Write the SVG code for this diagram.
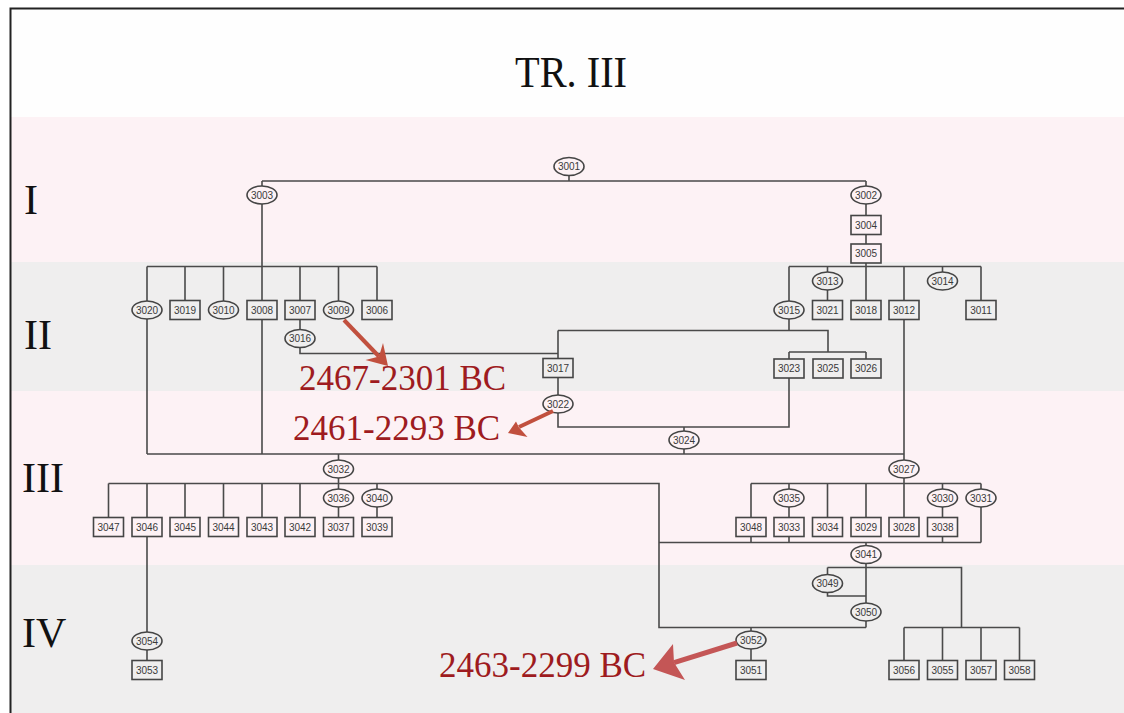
<svg xmlns="http://www.w3.org/2000/svg" width="1124" height="713" viewBox="0 0 1124 713">
<style>
.n rect,.n ellipse{fill:none;stroke:#454545;stroke-width:1.6}
.n text{font-family:"Liberation Sans",Arial,sans-serif;font-size:10px;fill:#3a3a3a;text-anchor:middle;dominant-baseline:central}
#connectors path{fill:none;stroke:#4a4a4a;stroke-width:1.6}
.rn{font-family:"Liberation Serif","Times New Roman",serif;font-size:42px;fill:#111}
.date{font-family:"Liberation Serif","Times New Roman",serif;font-size:35px;fill:#9e1b20}
.arr{fill:none;stroke:#c1503e;stroke-width:4}
.ah{fill:#c1503e}
</style>
<rect x="0" y="0" width="1124" height="713" fill="#ffffff"/>
<rect x="10" y="8" width="1114" height="109" fill="#fefefe"/>
<rect x="10" y="117" width="1114" height="145" fill="#fdf2f5"/>
<rect x="10" y="262" width="1114" height="129" fill="#efeeee"/>
<rect x="10" y="391" width="1114" height="174" fill="#fdf2f5"/>
<rect x="10" y="565" width="1114" height="148" fill="#efeeee"/>
<path d="M10.5 713 V8.5 H1124" fill="none" stroke="#222" stroke-width="2"/>
<text x="571" y="87" font-family="'Liberation Serif','Times New Roman',serif" font-size="44" fill="#111" text-anchor="middle" textLength="112" lengthAdjust="spacingAndGlyphs">TR. III</text>
<text class="rn" x="24" y="214">I</text>
<text class="rn" x="24" y="349">II</text>
<text class="rn" x="22" y="492">III</text>
<text class="rn" x="22" y="647">IV</text>
<g id="connectors">
<path d="M569 175.5V181M262 181H866M262 181V186M866 181V186"/>
<path d="M262 204V300.5M262 319.5V454"/>
<path d="M147 266.5H377M147 266.5V301M185 266.5V300.5M223.5 266.5V301M300 266.5V300.5M338.5 266.5V301M377 266.5V300.5"/>
<path d="M300 319.5V329.5M300 347.5V353.5H558"/>
<path d="M558 330.5V358.5M558 330.5H828V352M789 352H866M789 352V359M866 352V359M789 319V330.5"/>
<path d="M558 377.5V395M558 413V427H789V378M684 427V431M684 449V454"/>
<path d="M147 454H904M147 319V454"/>
<path d="M866 204V215.5M866 234.5V244M866 263V266.5M789 266.5H981M789 266.5V301M827.5 266.5V272M827.5 290V300.5M866 266.5V300.5M904 266.5V300.5M942.5 266.5V272M981 266.5V300.5"/>
<path d="M904 319.5V460"/>
<path d="M338.5 454V460M338.5 478V489M108.5 483.5H659V627.5H866M108.5 483.5V517.5M147 483.5V517.5M185 483.5V517.5M223.5 483.5V517.5M262 483.5V517.5M300 483.5V517.5M377 483.5V489M338.5 507V517.5M377 507V517.5"/>
<path d="M147 536.5V632M147 650V660.5"/>
<path d="M904 478V517.5M751 483.5H981M751 483.5V517.5M789 483.5V489M789 507V517.5M827.5 483.5V517.5M866 483.5V517.5M942.5 483.5V489M942.5 507V517.5M981 483.5V489"/>
<path d="M659 542.5H981M751 536.5V542.5M789 536.5V542.5M942.5 536.5V542.5M981 507V542.5M866 542.5V545.5"/>
<path d="M866 563.5V603M827.5 567.5H961.5V627.5M827.5 567.5V574.5M827.5 592.5V596H866"/>
<path d="M866 621V627.5M751 627.5V631M751 649V660.5"/>
<path d="M904 627.5H1019.5M904 627.5V660.5M942.5 627.5V660.5M981 627.5V660.5M1019.5 627.5V660.5"/>
</g>
<g id="n3001" class="n"><ellipse cx="569" cy="166.5" rx="15" ry="9"/><text x="569" y="166.5">3001</text></g>
<g id="n3003" class="n"><ellipse cx="262" cy="195" rx="15" ry="9"/><text x="262" y="195">3003</text></g>
<g id="n3002" class="n"><ellipse cx="866" cy="195" rx="15" ry="9"/><text x="866" y="195">3002</text></g>
<g id="n3004" class="n"><rect x="851" y="215.5" width="30" height="19"/><text x="866" y="225">3004</text></g>
<g id="n3005" class="n"><rect x="851" y="244" width="30" height="19"/><text x="866" y="253.5">3005</text></g>
<g id="n3020" class="n"><ellipse cx="147" cy="310" rx="15" ry="9"/><text x="147" y="310">3020</text></g>
<g id="n3019" class="n"><rect x="170" y="300.5" width="30" height="19"/><text x="185" y="310">3019</text></g>
<g id="n3010" class="n"><ellipse cx="223.5" cy="310" rx="15" ry="9"/><text x="223.5" y="310">3010</text></g>
<g id="n3008" class="n"><rect x="247" y="300.5" width="30" height="19"/><text x="262" y="310">3008</text></g>
<g id="n3007" class="n"><rect x="285" y="300.5" width="30" height="19"/><text x="300" y="310">3007</text></g>
<g id="n3009" class="n"><ellipse cx="338.5" cy="310" rx="15" ry="9"/><text x="338.5" y="310">3009</text></g>
<g id="n3006" class="n"><rect x="362" y="300.5" width="30" height="19"/><text x="377" y="310">3006</text></g>
<g id="n3016" class="n"><ellipse cx="300" cy="338.5" rx="15" ry="9"/><text x="300" y="338.5">3016</text></g>
<g id="n3015" class="n"><ellipse cx="789" cy="310" rx="15" ry="9"/><text x="789" y="310">3015</text></g>
<g id="n3013" class="n"><ellipse cx="827.5" cy="281" rx="15" ry="9"/><text x="827.5" y="281">3013</text></g>
<g id="n3021" class="n"><rect x="812.5" y="300.5" width="30" height="19"/><text x="827.5" y="310">3021</text></g>
<g id="n3018" class="n"><rect x="851" y="300.5" width="30" height="19"/><text x="866" y="310">3018</text></g>
<g id="n3012" class="n"><rect x="889" y="300.5" width="30" height="19"/><text x="904" y="310">3012</text></g>
<g id="n3014" class="n"><ellipse cx="942.5" cy="281" rx="15" ry="9"/><text x="942.5" y="281">3014</text></g>
<g id="n3011" class="n"><rect x="966" y="300.5" width="30" height="19"/><text x="981" y="310">3011</text></g>
<g id="n3017" class="n"><rect x="543" y="358.5" width="30" height="19"/><text x="558" y="368">3017</text></g>
<g id="n3023" class="n"><rect x="774" y="359" width="30" height="19"/><text x="789" y="368.5">3023</text></g>
<g id="n3025" class="n"><rect x="813" y="359" width="30" height="19"/><text x="828" y="368.5">3025</text></g>
<g id="n3026" class="n"><rect x="851" y="359" width="30" height="19"/><text x="866" y="368.5">3026</text></g>
<g id="n3022" class="n"><ellipse cx="558" cy="404" rx="15" ry="9"/><text x="558" y="404">3022</text></g>
<g id="n3024" class="n"><ellipse cx="684" cy="440" rx="15" ry="9"/><text x="684" y="440">3024</text></g>
<g id="n3032" class="n"><ellipse cx="338.5" cy="469" rx="15" ry="9"/><text x="338.5" y="469">3032</text></g>
<g id="n3027" class="n"><ellipse cx="904" cy="469" rx="15" ry="9"/><text x="904" y="469">3027</text></g>
<g id="n3047" class="n"><rect x="93.5" y="517.5" width="30" height="19"/><text x="108.5" y="527">3047</text></g>
<g id="n3046" class="n"><rect x="132" y="517.5" width="30" height="19"/><text x="147" y="527">3046</text></g>
<g id="n3045" class="n"><rect x="170" y="517.5" width="30" height="19"/><text x="185" y="527">3045</text></g>
<g id="n3044" class="n"><rect x="208.5" y="517.5" width="30" height="19"/><text x="223.5" y="527">3044</text></g>
<g id="n3043" class="n"><rect x="247" y="517.5" width="30" height="19"/><text x="262" y="527">3043</text></g>
<g id="n3042" class="n"><rect x="285" y="517.5" width="30" height="19"/><text x="300" y="527">3042</text></g>
<g id="n3036" class="n"><ellipse cx="338.5" cy="498" rx="15" ry="9"/><text x="338.5" y="498">3036</text></g>
<g id="n3037" class="n"><rect x="323.5" y="517.5" width="30" height="19"/><text x="338.5" y="527">3037</text></g>
<g id="n3040" class="n"><ellipse cx="377" cy="498" rx="15" ry="9"/><text x="377" y="498">3040</text></g>
<g id="n3039" class="n"><rect x="362" y="517.5" width="30" height="19"/><text x="377" y="527">3039</text></g>
<g id="n3048" class="n"><rect x="736" y="517.5" width="30" height="19"/><text x="751" y="527">3048</text></g>
<g id="n3035" class="n"><ellipse cx="789" cy="498" rx="15" ry="9"/><text x="789" y="498">3035</text></g>
<g id="n3033" class="n"><rect x="774" y="517.5" width="30" height="19"/><text x="789" y="527">3033</text></g>
<g id="n3034" class="n"><rect x="812.5" y="517.5" width="30" height="19"/><text x="827.5" y="527">3034</text></g>
<g id="n3029" class="n"><rect x="851" y="517.5" width="30" height="19"/><text x="866" y="527">3029</text></g>
<g id="n3028" class="n"><rect x="889" y="517.5" width="30" height="19"/><text x="904" y="527">3028</text></g>
<g id="n3030" class="n"><ellipse cx="942.5" cy="498" rx="15" ry="9"/><text x="942.5" y="498">3030</text></g>
<g id="n3038" class="n"><rect x="927.5" y="517.5" width="30" height="19"/><text x="942.5" y="527">3038</text></g>
<g id="n3031" class="n"><ellipse cx="981" cy="498" rx="15" ry="9"/><text x="981" y="498">3031</text></g>
<g id="n3041" class="n"><ellipse cx="866" cy="554.5" rx="15" ry="9"/><text x="866" y="554.5">3041</text></g>
<g id="n3049" class="n"><ellipse cx="827.5" cy="583.5" rx="15" ry="9"/><text x="827.5" y="583.5">3049</text></g>
<g id="n3050" class="n"><ellipse cx="866" cy="612" rx="15" ry="9"/><text x="866" y="612">3050</text></g>
<g id="n3052" class="n"><ellipse cx="751" cy="640" rx="15" ry="9"/><text x="751" y="640">3052</text></g>
<g id="n3051" class="n"><rect x="736" y="660.5" width="30" height="19"/><text x="751" y="670">3051</text></g>
<g id="n3054" class="n"><ellipse cx="147" cy="641" rx="15" ry="9"/><text x="147" y="641">3054</text></g>
<g id="n3053" class="n"><rect x="132" y="660.5" width="30" height="19"/><text x="147" y="670">3053</text></g>
<g id="n3056" class="n"><rect x="889" y="660.5" width="30" height="19"/><text x="904" y="670">3056</text></g>
<g id="n3055" class="n"><rect x="927.5" y="660.5" width="30" height="19"/><text x="942.5" y="670">3055</text></g>
<g id="n3057" class="n"><rect x="966" y="660.5" width="30" height="19"/><text x="981" y="670">3057</text></g>
<g id="n3058" class="n"><rect x="1004.5" y="660.5" width="30" height="19"/><text x="1019.5" y="670">3058</text></g>
<g id="annotations">
<path class="arr" d="M344 320L379 356.5"/>
<polygon class="ah" points="388,366 365.5,360 379,356.5 383,343"/>
<text class="date" x="299" y="390">2467-2301 BC</text>
<path class="arr" d="M553 411L519 427"/>
<polygon class="ah" points="508,433 516,421.5 519,427.5 527.5,437"/>
<text class="date" x="293" y="440">2461-2293 BC</text>
<path d="M737 643L674 662.6" fill="none" stroke="#c45656" stroke-width="5"/>
<polygon points="653,669 673,644 674,662.6 685,680" fill="#c45656"/>
<text class="date" x="439" y="677">2463-2299 BC</text>
</g>
</svg>
